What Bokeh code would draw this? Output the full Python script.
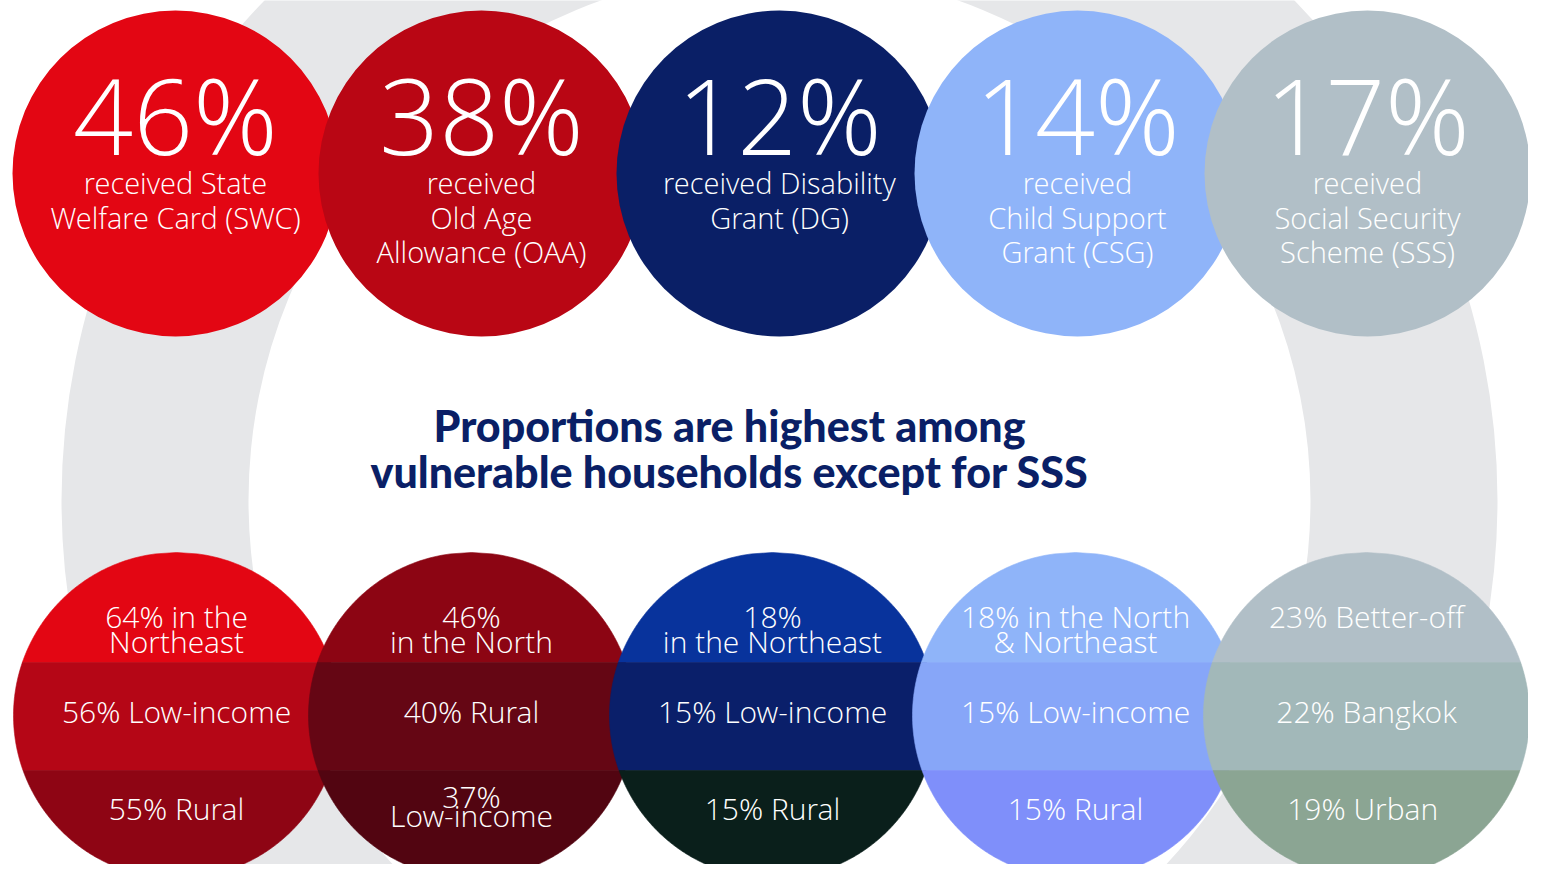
import numpy as np
from bokeh.plotting import figure
from bokeh.models import Range1d
from bokeh.core.properties import value
from bokeh.embed import file_html
from bokeh.resources import INLINE

# ---------------- data ----------------
programs = ["State Welfare Card (SWC)", "Old Age Allowance (OAA)", "Disability Grant (DG)",
            "Child Support Grant (CSG)", "Social Security Scheme (SSS)"]
shares = [46, 38, 12, 14, 17]
desc_lines = [
    ["received State", "Welfare Card (SWC)"],
    ["received", "Old Age", "Allowance (OAA)"],
    ["received Disability", "Grant (DG)"],
    ["received", "Child Support", "Grant (CSG)"],
    ["received", "Social Security", "Scheme (SSS)"],
]
# breakdown bands (top, middle, bottom) per programme
band1_values = [64, 46, 18, 18, 23]
band1_labels = [["{}% in the", "Northeast"], ["{}%", "in the North"], ["{}%", "in the Northeast"],
                ["{}% in the North", "& Northeast"], ["{}% Better-off"]]
band2_values = [56, 40, 15, 15, 22]
band2_labels = [["{}% Low-income"], ["{}% Rural"], ["{}% Low-income"], ["{}% Low-income"], ["{}% Bangkok"]]
band3_values = [55, 37, 15, 15, 19]
band3_labels = [["{}% Rural"], ["{}%", "Low-income"], ["{}% Rural"], ["{}% Rural"], ["{}%  Urban"]]

title_lines = ["Proportions are highest among", "vulnerable households except for SSS"]

# ---------------- styles / layout ----------------
top_colors = ["#e30613", "#b90614", "#0a1f66", "#8fb4f9", "#b1bfc7"]
band_colors = [
    ["#e30613", "#b50616", "#8e0514"],
    ["#8c0513", "#650614", "#520511"],
    ["#08339c", "#0a1f6a", "#0a1f1b"],
    ["#8fb4f9", "#87a6f8", "#7f8ffa"],
    ["#b1bfc7", "#a2b8b9", "#8ba593"],
]
top_cx = [175, 481, 779, 1077, 1367]
top_cy = 173
bot_cx = [176, 471, 772, 1075, 1366]
bot_cy = 715
R = 163
band_edges = [bot_cy - R, 662, 770, bot_cy + R]
BASE_K = 0.37  # baseline correction factor (fraction of font size)

LIGHT = value("Open Sans Light")

p = figure(width=1528, height=864, x_range=Range1d(0, 1528), y_range=Range1d(864, 0),
           output_backend="svg", toolbar_location=None, min_border=0)
p.axis.visible = False
p.grid.visible = False
p.outline_line_color = None
p.background_fill_color = "white"
p.border_fill_color = "white"

# background ring
p.annulus(x=[779], y=[500], inner_radius=531, outer_radius=718,
          fill_color="#e6e7e9", line_color=None)

# top circles
p.circle(x=top_cx, y=[top_cy] * 5, radius=R, fill_color=top_colors, line_color=None)

# bottom banded circles
xs, ys, cols = [], [], []
for i, cx in enumerate(bot_cx):
    for b in range(3):
        y0, y1 = band_edges[b], band_edges[b + 1]
        yy = np.linspace(y0, y1, 80)
        dx = np.sqrt(np.clip(R ** 2 - (yy - bot_cy) ** 2, 0, None))
        xs.append(list(np.concatenate([cx - dx, (cx + dx)[::-1]])))
        ys.append(list(np.concatenate([yy, yy[::-1]])))
        cols.append(band_colors[i][b])
p.patches(xs=xs, ys=ys, fill_color=cols, line_color=cols, line_width=0.6)


def put_text(xv, yv, tv, size, font, color="white", style="normal"):
    p.text(x=xv, y=[y - BASE_K * size for y in yv], text=tv, text_align="center",
           text_baseline="alphabetic", text_font=font, text_font_style=style,
           text_font_size=f"{size}px", text_color=color)


# big numbers
put_text(top_cx, [153] * 5, [f"{s}%" for s in shares], 105, LIGHT)

# descriptions
tx, ty, tt = [], [], []
for i, lines in enumerate(desc_lines):
    for j, ln in enumerate(lines):
        tx.append(top_cx[i]); ty.append(193 + 34.5 * j); tt.append(ln)
put_text(tx, ty, tt, 29, LIGHT)

# band labels
bx, by, bt = [], [], []
for b, (vals, labs) in enumerate([(band1_values, band1_labels), (band2_values, band2_labels),
                                   (band3_values, band3_labels)]):
    single = [627, 722, 819][b]
    for i, lines in enumerate(labs):
        n = len(lines)
        if n == 1:
            base, gap = single, 0
        elif b == 0:
            base, gap = 627, 25
        else:
            base, gap = single - 12, 19
        for j, ln in enumerate(lines):
            bx.append(bot_cx[i]); by.append(base + gap * j); bt.append(ln.format(vals[i]))
put_text(bx, by, bt, 30, LIGHT)

# title
put_text([729, 729], [441, 487], title_lines, 43, value("Lato Black"), color="#0a1f66")

open("out.html", "w").write(file_html(p, INLINE))
